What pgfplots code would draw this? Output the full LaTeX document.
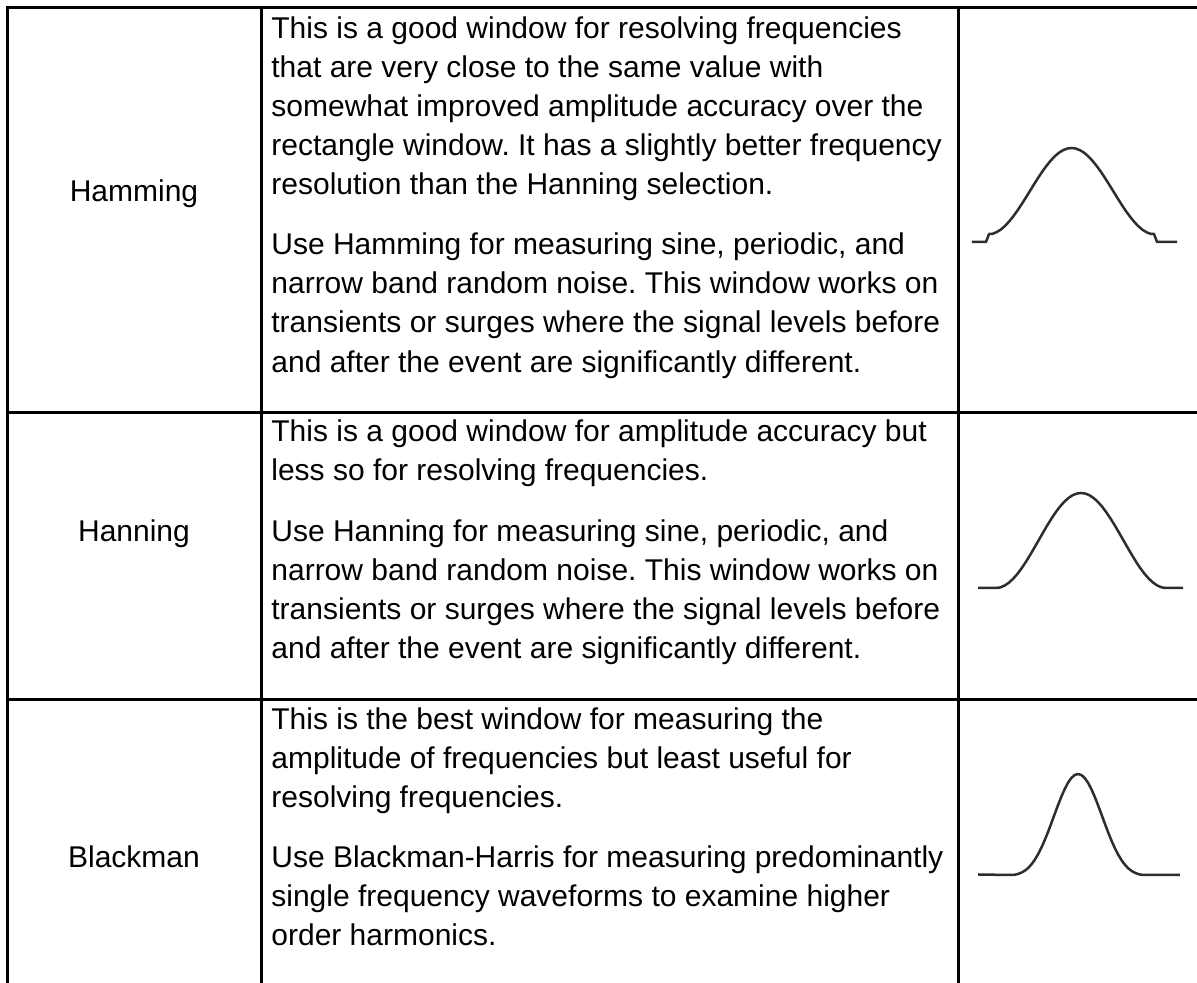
\documentclass[border=0pt]{standalone}
\usepackage{pgfplots}
\pgfplotsset{compat=1.18}
\usepackage{fontspec}
\setmainfont{Liberation Sans}
\frenchspacing
\definecolor{curve}{RGB}{45,45,45}
\tikzset{
  txt/.style={anchor=base west, inner sep=0pt, text=black, font=\fontsize{15pt}{18pt}\selectfont},
  lbl/.style={anchor=base, inner sep=0pt, text=black, font=\fontsize{15pt}{18pt}\selectfont},
}
\begin{document}
\begin{tikzpicture}
\useasboundingbox (0,0) rectangle (598.5pt,491.5pt);
% ---- table frame and text (pixel coordinates, y downward) ----
\begin{axis}[
  at={(0,0)}, anchor=south west,
  width=598.5pt, height=491.5pt, scale only axis,
  xmin=0, xmax=1197, ymin=0, ymax=983, y dir=reverse,
  hide axis, clip=false,
]
\draw[line width=1.5pt] (axis cs:5.5,8) -- (axis cs:1197,8);
\draw[line width=1.5pt] (axis cs:5.5,412) -- (axis cs:1197,412);
\draw[line width=1.5pt] (axis cs:5.5,699) -- (axis cs:1197,699);
\draw[line width=1.5pt] (axis cs:7,6.5) -- (axis cs:7,983);
\draw[line width=1.5pt] (axis cs:261.5,6.5) -- (axis cs:261.5,983);
\draw[line width=1.5pt] (axis cs:958,6.5) -- (axis cs:958,983);
% labels
\node[lbl] at (axis cs:134,202) {Hamming};
\node[lbl] at (axis cs:134,541) {Hanning};
\node[lbl] at (axis cs:134,867) {Blackman};
% row 1
\node[txt] at (axis cs:271,38.3) {This is a good window for resolving frequencies};
\node[txt] at (axis cs:271,77.3) {that are very close to the same value with};
\node[txt] at (axis cs:271,116.3) {somewhat improved amplitude accuracy over the};
\node[txt] at (axis cs:271,155.3) {rectangle window. It has a slightly better frequency};
\node[txt] at (axis cs:271,194.3) {resolution than the Hanning selection.};
\node[txt] at (axis cs:271,255) {Use Hamming for measuring sine, periodic, and};
\node[txt] at (axis cs:271,294) {narrow band random noise. This window works on};
\node[txt] at (axis cs:271,333) {transients or surges where the signal levels before};
\node[txt] at (axis cs:271,372) {and after the event are significantly different.};
% row 2
\node[txt] at (axis cs:271,441) {This is a good window for amplitude accuracy but};
\node[txt] at (axis cs:271,480) {less so for resolving frequencies.};
\node[txt] at (axis cs:271,541) {Use Hanning for measuring sine, periodic, and};
\node[txt] at (axis cs:271,580) {narrow band random noise. This window works on};
\node[txt] at (axis cs:271,619) {transients or surges where the signal levels before};
\node[txt] at (axis cs:271,658) {and after the event are significantly different.};
% row 3
\node[txt] at (axis cs:271,729) {This is the best window for measuring the};
\node[txt] at (axis cs:271,768) {amplitude of frequencies but least useful for};
\node[txt] at (axis cs:271,807) {resolving frequencies.};
\node[txt] at (axis cs:271,867) {Use Blackman-Harris for measuring predominantly};
\node[txt] at (axis cs:271,906) {single frequency waveforms to examine higher};
\node[txt] at (axis cs:271,945) {order harmonics.};
\end{axis}
% ---- Hamming window ----
\begin{axis}[
  at={(494pt,370.5pt)}, anchor=south west,
  width=83.5pt, height=47pt, scale only axis,
  xmin=0, xmax=1, ymin=0, ymax=1, hide axis, clip=false,
]
\addplot[curve, line width=1.25pt, line join=round] coordinates {
(-0.096,0) (-0.012,0) (0.006,0.085) (0.025,0.0857) (0.05,0.103) (0.075,0.130)
(0.1,0.168) (0.125,0.215) (0.15,0.270) (0.175,0.331) (0.2,0.398) (0.225,0.468)
(0.25,0.540) (0.275,0.612) (0.3,0.682) (0.325,0.749) (0.35,0.810) (0.375,0.865)
(0.4,0.912) (0.425,0.950) (0.45,0.977) (0.475,0.994) (0.5,1.0)
(0.525,0.994) (0.55,0.977) (0.575,0.950) (0.6,0.912) (0.625,0.865) (0.65,0.810)
(0.675,0.749) (0.7,0.682) (0.725,0.612) (0.75,0.540) (0.775,0.468) (0.8,0.398)
(0.825,0.331) (0.85,0.270) (0.875,0.215) (0.9,0.168) (0.925,0.130) (0.95,0.103)
(0.975,0.0857) (0.994,0.085) (1.012,0) (1.132,0)
};
\end{axis}
% ---- Hanning window ----
\begin{axis}[
  at={(498pt,197.5pt)}, anchor=south west,
  width=85pt, height=47.5pt, scale only axis,
  xmin=0, xmax=1, ymin=0, ymax=1, hide axis, clip=false,
]
\addplot[curve, line width=1.25pt, line join=round] coordinates {
(-0.106,0) (0,0) (0.025,0.006) (0.05,0.025) (0.075,0.055) (0.1,0.096)
(0.125,0.146) (0.15,0.206) (0.175,0.273) (0.2,0.346) (0.225,0.422) (0.25,0.5)
(0.275,0.578) (0.3,0.655) (0.325,0.727) (0.35,0.794) (0.375,0.854) (0.4,0.905)
(0.425,0.946) (0.45,0.976) (0.475,0.994) (0.5,1.0)
(0.525,0.994) (0.55,0.976) (0.575,0.946) (0.6,0.905) (0.625,0.854) (0.65,0.794)
(0.675,0.727) (0.7,0.655) (0.725,0.578) (0.75,0.5) (0.775,0.422) (0.8,0.346)
(0.825,0.273) (0.85,0.206) (0.875,0.146) (0.9,0.096) (0.925,0.055) (0.95,0.025)
(0.975,0.006) (1,0) (1.1,0)
};
\end{axis}
% ---- Blackman window ----
\begin{axis}[
  at={(505.5pt,54pt)}, anchor=south west,
  width=67pt, height=50.5pt, scale only axis,
  xmin=0, xmax=1, ymin=0, ymax=1, hide axis, clip=false,
]
\addplot[curve, line width=1.25pt, line join=round] coordinates {
(-0.246,0.005) (0,0) (0.025,0.002) (0.05,0.009) (0.075,0.022) (0.1,0.040)
(0.125,0.066) (0.15,0.101) (0.175,0.146) (0.2,0.201) (0.225,0.266) (0.25,0.34)
(0.275,0.422) (0.3,0.510) (0.325,0.600) (0.35,0.689) (0.375,0.774) (0.4,0.849)
(0.425,0.913) (0.45,0.960) (0.475,0.990) (0.5,1.0)
(0.525,0.990) (0.55,0.960) (0.575,0.913) (0.6,0.849) (0.625,0.774) (0.65,0.689)
(0.675,0.600) (0.7,0.510) (0.725,0.422) (0.75,0.34) (0.775,0.266) (0.8,0.201)
(0.825,0.146) (0.85,0.101) (0.875,0.066) (0.9,0.040) (0.925,0.022) (0.95,0.009)
(0.975,0.002) (1,0) (1.261,0)
};
\end{axis}
\end{tikzpicture}
\end{document}
